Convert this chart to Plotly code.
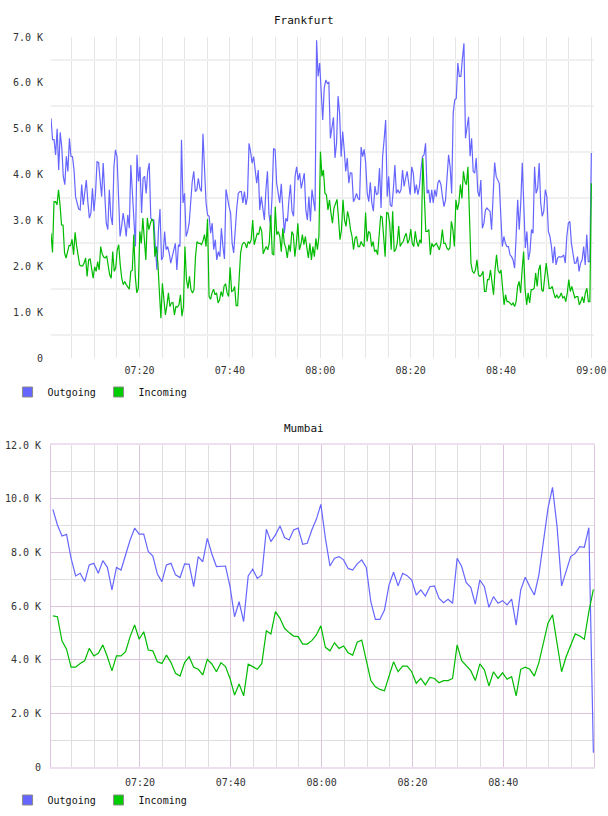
import numpy as np
import pandas as pd
import plotly.graph_objects as go

DAY = "2024-01-01"
FONT = "DejaVu Sans Mono"

# ---------------- Frankfurt (values in K) ----------------
F_OUT = [5.23, 4.76, 4.76, 4.43, 5.0, 4.1, 4.92, 4.6, 3.96, 3.78,
         4.4, 4.07, 4.79, 4.4, 4.39, 4.1, 3.52, 3.41, 3.25, 3.23,
         3.78, 3.34, 3.67, 3.88, 3.41, 3.05, 3.16, 3.7, 3.2, 3.59,
         4.28, 4.26, 3.88, 3.52, 4.25, 3.59, 2.94, 2.8, 3.67, 3.09,
         2.9, 4.17, 4.54, 4.39, 3.38, 2.65, 2.87, 3.16, 2.94, 2.65,
         3.12, 2.83, 4.21, 3.52, 2.94, 2.43, 4.43, 3.85, 4.17, 3.16,
         3.92, 3.96, 3.59, 4.07, 4.25, 3.05, 3.01, 3.01, 2.43, 1.92,
         2.8, 3.25, 2.14, 2.21, 2.76, 2.36, 2.43, 2.29, 2.07, 2.21,
         2.29, 2.5, 1.92, 2.47, 2.43, 4.76,
         3.38, 3.59, 2.65, 2.76, 2.94, 3.52, 3.85, 4.07, 3.63, 3.67,
         3.92, 3.7, 3.63, 4.89, 3.96, 3.38, 3.12, 3.09, 2.72, 2.94,
         2.36, 2.58, 2.14, 2.32, 2.21, 2.83, 2.43, 2.16, 3.68, 3.45,
         3.3, 3.16, 2.5, 2.29, 2.87, 3.27, 3.59, 3.63, 3.63, 3.38,
         3.63, 3.34, 3.52, 4.68, 4.5, 4.25, 4.39, 4.1, 3.81, 4.1,
         3.23, 3.52, 3.3, 3.01, 3.67, 4.07, 3.12, 2.9, 3.52, 4.57,
         4.54, 3.81, 3.59, 3.38, 3.8, 3.23, 2.72, 3.05, 2.98, 3.45,
         3.78, 3.2, 3.09, 3.96, 4.17, 3.88, 4.03, 3.7, 3.88, 4.03,
         3.23, 3.01, 3.52, 2.98, 3.67, 3.45, 3.2,
         6.93, 6.14, 6.43, 5.7, 5.19, 5.89, 6.06, 5.99, 6.01, 4.79,
         5.01, 5.25, 4.36, 4.68, 5.71, 5.34, 4.39, 4.94, 4.54, 4.07,
         4.36, 3.81, 4.04, 4.03, 3.41, 3.48, 3.59, 3.48, 3.45, 4.6,
         4.39, 4.55, 4.25, 3.59, 3.41, 3.83, 3.38, 3.2, 3.75, 3.56,
         3.59, 4.14, 3.27, 4.39, 4.76, 5.19, 3.52, 3.96, 3.34, 3.3,
         3.67, 4.21, 3.59, 3.67, 3.59, 3.67, 4.1, 3.74, 3.92, 4.07,
         3.81, 3.56, 4.17, 4.03, 3.59, 3.78, 3.56, 3.74, 4.1, 4.39,
         4.43, 4.68, 3.59, 3.67, 3.38, 3.67, 3.38, 3.67, 3.52, 3.81,
         3.88, 3.78, 3.52, 3.3, 3.45, 4.03, 4.43, 4.17, 3.59,
         5.34, 5.63, 5.66, 6.43, 6.14, 6.14, 6.53, 6.86, 4.79, 5.08,
         5.26, 4.4, 4.79, 4.07, 4.03, 4.36, 3.63, 3.52, 3.88, 2.83,
         2.94, 3.23, 3.27, 3.23, 3.2, 2.8, 3.74, 4.26, 3.96, 3.88,
         3.81, 3.12, 2.43, 2.65, 2.5, 2.43, 2.43, 2.25, 2.21, 2.14,
         1.96, 2.65, 3.45, 2.8, 3.38, 4.26, 3.3, 2.4, 2.76, 2.14,
         2.32, 2.8, 2.72, 4.17, 3.59, 3.7, 4.25, 3.38, 3.09, 3.2,
         3.67, 3.52, 2.76, 2.65, 2.43, 2.07, 2.43, 2.03, 2.18, 2.21,
         2.2, 2.21, 2.25, 2.07, 2.65, 2.94, 2.98, 2.5, 2.29, 2.07,
         2.07, 2.21, 1.89, 2.07, 2.14, 2.43, 2.03, 2.69, 2.1, 2.1,
         4.47]

F_IN = [2.72, 2.3, 3.41, 3.41, 3.34, 3.67, 3.34, 2.9, 2.9, 2.29,
        2.18, 2.32, 2.45, 2.45, 2.59, 2.25, 2.74, 2.45, 2.25, 2.03,
        2.01, 2.01, 2.07, 2.18, 1.78, 2.14, 2.16, 1.92, 1.74, 1.99,
        1.89, 2.1, 1.92, 2.43, 2.27, 2.2, 2.18, 2.23, 2.03, 1.81,
        1.74, 2.32, 1.89, 1.96, 2.36, 2.47, 2.03, 1.74, 1.6, 1.67,
        1.6, 1.56, 1.5, 1.89, 1.91, 2.69, 1.78, 1.42, 1.52, 2.76,
        2.5, 3.05, 2.65, 2.14, 3.05, 2.8, 2.93, 3.03, 2.98, 2.21,
        2.43, 2.07, 1.45, 0.87, 1.63, 1.27, 0.94, 1.14, 1.42, 1.12,
        1.2, 1.21, 0.94, 1.12, 1.11, 1.16, 1.38, 0.91, 1.12, 2.43, 1.71,
        1.52, 1.78, 1.49, 1.42, 1.49, 2.21, 2.54, 2.5, 2.5, 2.47,
        2.56, 2.69, 2.43, 3.03, 1.34, 1.28, 1.42, 1.5, 1.38, 1.42,
        1.2, 1.27, 1.45, 1.34, 1.57, 1.62, 1.42, 1.34, 1.98, 1.45,
        1.47, 1.56, 1.14, 1.14, 1.74, 2.3, 2.47, 2.52, 2.5, 2.4,
        2.54, 2.5, 2.58, 3.01, 2.47, 2.61, 2.72, 2.69, 2.87, 2.76,
        2.27, 2.36, 2.43, 2.36, 2.5, 3.12, 2.27, 2.25, 3.3, 2.69,
        2.76, 2.65, 2.32, 2.83, 2.5, 2.4, 2.18, 2.47, 2.32, 2.76,
        2.69, 2.21, 2.5, 2.94, 2.36, 2.47, 2.69, 2.47, 2.65, 2.4,
        2.18, 2.5, 2.14, 2.43, 2.21, 2.61, 2.36, 2.65,
        4.5, 3.96, 4.1, 3.59, 3.56, 3.23, 3.45, 3.16, 2.94, 3.27,
        3.38, 3.46, 3.05, 2.58, 2.8, 3.45, 3.01, 2.87, 3.2, 3.05,
        2.8, 2.65, 2.36, 2.61, 2.65, 2.43, 2.43, 2.54, 2.47, 2.43,
        3.17, 2.54, 2.76, 2.72, 2.43, 2.54, 2.32, 2.36, 2.25, 2.69,
        3.09, 3.07, 2.54, 2.21, 3.17, 3.16, 2.94, 2.36, 3.2, 2.32,
        2.36, 2.5, 2.88, 2.43, 2.5, 2.54, 2.65, 2.72, 2.5, 2.58,
        2.81, 2.5, 2.43, 2.76, 2.54, 2.43, 2.58, 2.5, 4.36, 3.45,
        2.76, 2.76, 2.8, 2.25, 2.5, 2.43, 2.47, 2.5, 2.43, 2.36,
        2.5, 2.8, 2.5, 2.5, 2.4, 2.36, 2.4, 2.98, 2.8, 2.43,
        3.45, 3.23, 3.38, 3.78, 3.48, 4.07, 3.85, 3.78, 4.17, 2.8,
        2.07, 1.89, 1.85, 1.92, 2.14, 1.81, 1.78, 1.81, 1.89, 1.45,
        1.45, 1.71, 1.71, 1.92, 1.63, 1.38, 1.92, 2.25, 1.92, 1.85,
        1.92, 1.49, 1.16, 1.38, 1.23, 1.23, 1.2, 1.16, 1.2, 1.12,
        1.23, 1.56, 1.67, 1.42, 1.92, 2.32, 1.49, 1.16, 1.42, 1.2,
        1.49, 1.49, 1.52, 1.85, 1.56, 1.92, 2.03, 1.49, 1.45, 1.71,
        2.07, 1.81, 1.52, 1.52, 1.56, 1.42, 1.31, 1.38, 1.31, 1.34,
        1.42, 1.31, 1.34, 1.23, 1.42, 1.71, 1.45, 1.56, 1.42, 1.31,
        1.34, 1.34, 1.16, 1.23, 1.34, 1.2, 1.42, 1.52, 1.23, 1.23, 3.81]

# ---------------- Mumbai (values in K, one per minute) ----------------
M_OUT = [9.6, 9.02, 8.61, 8.67, 7.78, 7.12, 7.22, 6.91, 7.53, 7.59,
         7.22, 7.69, 7.44, 6.6, 7.44, 7.34, 7.9, 8.46, 8.9, 8.68,
         8.68, 8.03, 7.86, 7.19, 6.91, 7.53, 7.59, 7.16, 7.06, 7.57,
         7.55, 6.72, 7.84, 7.65, 8.52, 7.94, 7.47, 7.49, 7.49, 6.72,
         5.6, 6.16, 5.42, 7.12, 7.37, 7.03, 7.16, 8.86, 8.4, 8.65,
         8.98, 8.55, 8.46, 8.83, 8.9, 8.3,
         8.34, 8.83, 9.23, 9.79, 8.52, 7.49, 7.78, 7.84, 7.72, 7.4,
         7.34, 7.57, 7.72, 7.44, 6.16, 5.5, 5.5, 5.85, 6.78, 7.26,
         6.75, 7.22, 7.13, 6.97, 6.41, 6.6, 6.37, 6.72, 6.75, 6.29,
         6.12, 6.25, 6.1, 7.78, 7.47, 6.87, 6.7, 6.07, 6.97, 6.72,
         5.95, 6.35, 6.1, 6.2, 6.04, 6.26, 5.29, 6.6, 7.07, 6.72,
         6.41, 7.16, 8.46, 9.64, 10.42, 8.96, 6.75, 7.28, 7.84, 7.96,
         8.21, 8.19, 8.92, 0.53]

M_IN = [5.63, 5.6, 4.7, 4.39, 3.72, 3.72, 3.86, 3.96, 4.42, 4.14,
        4.24, 4.55, 4.11, 3.58, 4.14, 4.14, 4.3, 4.86, 5.29, 4.76,
        5.04, 4.36, 4.33, 3.92, 3.86, 4.17, 3.89, 3.49, 3.39, 3.89,
        4.11, 3.72, 3.64, 3.43, 4.01, 3.84, 3.55, 3.89, 3.74, 3.3,
        2.68, 3.09, 2.65, 3.83, 3.74, 3.64, 3.86, 5.08, 4.96, 5.79,
        5.54, 5.17, 5.01, 4.88, 4.86, 4.58,
        4.58, 4.71, 4.92, 5.26, 4.46, 4.33, 4.63, 4.42, 4.51, 4.26,
        4.17, 4.65, 4.73, 3.99, 3.22, 2.99, 2.89, 2.84, 3.43, 3.92,
        3.55, 3.76, 3.76, 3.55, 3.12, 3.3, 3.06, 3.34, 3.3, 3.14,
        3.22, 3.22, 3.3, 4.55, 3.96, 3.76, 3.59, 3.22, 3.84, 3.62,
        3.02, 3.55, 3.3, 3.51, 3.27, 3.37, 2.65, 3.64, 3.72, 3.64,
        3.39, 3.89, 4.67, 5.36, 5.67, 4.67, 3.55, 4.11, 4.55, 4.96,
        4.88, 4.76, 5.79, 6.62]

SERIES = ["Outgoing", "Incoming"]
COLORS = {"Outgoing": "#6666ff", "Incoming": "#00bb00"}
SWATCH = {"Outgoing": "#6666ff", "Incoming": "#00cc00"}

F_YTICKS = [0, 1000, 2000, 3000, 4000, 5000, 6000, 7000]
F_YTEXT = ["0", "1.0 K", "2.0 K", "3.0 K", "4.0 K", "5.0 K", "6.0 K", "7.0 K"]
M_YTICKS = [0, 2000, 4000, 6000, 8000, 10000, 12000]
M_YTEXT = ["0", "2.0 K", "4.0 K", "6.0 K", "8.0 K", "10.0 K", "12.0 K"]

# time stamps
f_out_t = pd.date_range(f"{DAY} 07:00:25", f"{DAY} 09:00:00", periods=len(F_OUT))
f_in_t = pd.date_range(f"{DAY} 07:00:25", f"{DAY} 09:00:00", periods=len(F_IN))
m_t = pd.date_range(f"{DAY} 07:00:50", periods=len(M_OUT), freq="60s")

fig = go.Figure()

fig.add_trace(go.Scatter(x=f_out_t, y=np.array(F_OUT) * 1000, mode="lines",
                         line=dict(color=COLORS["Outgoing"], width=1.2),
                         showlegend=False, xaxis="x", yaxis="y"))
fig.add_trace(go.Scatter(x=f_in_t, y=np.array(F_IN) * 1000, mode="lines",
                         line=dict(color=COLORS["Incoming"], width=1.2),
                         showlegend=False, xaxis="x", yaxis="y"))
fig.add_trace(go.Scatter(x=m_t, y=np.array(M_OUT) * 1000, mode="lines",
                         line=dict(color=COLORS["Outgoing"], width=1.2),
                         showlegend=False, xaxis="x2", yaxis="y2"))
fig.add_trace(go.Scatter(x=m_t, y=np.array(M_IN) * 1000, mode="lines",
                         line=dict(color=COLORS["Incoming"], width=1.2),
                         showlegend=False, xaxis="x2", yaxis="y2"))

# legend swatches
for lg, xa, ya in (("legend", "x", "y"), ("legend2", "x2", "y2")):
    for s in SERIES:
        fig.add_trace(go.Scatter(x=[None], y=[None], mode="markers", name=s,
                                 marker=dict(symbol="square", size=10, color=SWATCH[s],
                                             line=dict(color="#8a8a8a", width=1)),
                                 legend=lg, xaxis=xa, yaxis=ya, showlegend=True))

tickfont = dict(family=FONT, size=10, color="#333333")
xcommon = dict(type="date", dtick=1200000, tick0=f"{DAY} 07:00", tickformat="%H:%M",
               ticks="", zeroline=False, tickfont=tickfont, ticklabelstandoff=5)
legfont = dict(family=FONT, size=10, color="#111111")

fig.update_layout(
    width=608, height=816,
    margin=dict(l=51, r=14, t=0, b=0, autoexpand=False),
    paper_bgcolor="white", plot_bgcolor="white",
    xaxis=dict(domain=[0, 1], anchor="y",
               range=[f"{DAY} 07:00:25", f"{DAY} 09:00:35"],
               showgrid=True, gridcolor="#e6e6e6", gridwidth=1,
               minor=dict(dtick=300000, tick0=f"{DAY} 07:00", showgrid=True,
                          gridcolor="#e6e6e6", gridwidth=1),
               showline=False, **xcommon),
    yaxis=dict(domain=[1 - 358 / 816, 1 - 37 / 816], anchor="x", range=[0, 7000],
               tickmode="array", tickvals=F_YTICKS, ticktext=F_YTEXT,
               showgrid=False, zeroline=False, ticks="",
               minor=dict(tickmode="array", tickvals=[v + 500 for v in F_YTICKS[:-1]],
                          showgrid=True, gridcolor="#f0f0f0", gridwidth=2),
               tickfont=tickfont, ticklabelstandoff=7, showline=False),
    xaxis2=dict(domain=[0, 1], anchor="y2",
                range=[f"{DAY} 07:00:25", f"{DAY} 08:59:58"],
                showgrid=True, gridcolor="#dcc4dc", gridwidth=1,
                minor=dict(dtick=300000, tick0=f"{DAY} 07:00", showgrid=True,
                           gridcolor="#dedede", gridwidth=1),
                showline=True, mirror=True, linecolor="#eddff0", linewidth=2,
                **xcommon),
    yaxis2=dict(domain=[1 - 767 / 816, 1 - 445 / 816], anchor="x2", range=[0, 12000],
                tickmode="array", tickvals=M_YTICKS, ticktext=M_YTEXT,
                showgrid=True, gridcolor="#dcc4dc", gridwidth=1,
                minor=dict(tickmode="array", tickvals=[v + 1000 for v in M_YTICKS[:-1]],
                           showgrid=True, gridcolor="#dedede", gridwidth=1),
                zeroline=False, ticks="", showline=True, mirror=True,
                linecolor="#dcc4dc", linewidth=1,
                tickfont=tickfont, ticklabelstandoff=7),
    legend=dict(orientation="h", x=-0.080, xanchor="left", y=1 - 392 / 816, yanchor="middle",
                font=legfont, bgcolor="rgba(0,0,0,0)", itemwidth=30,
                entrywidth=46, entrywidthmode="pixels"),
    legend2=dict(orientation="h", x=-0.080, xanchor="left", y=1 - 800 / 816, yanchor="middle",
                 font=legfont, bgcolor="rgba(0,0,0,0)", itemwidth=30,
                 entrywidth=46, entrywidthmode="pixels"),
    annotations=[
        dict(text="Frankfurt", xref="paper", yref="paper", x=(304 - 51) / 543, y=1 - 20 / 816,
             xanchor="center", yanchor="middle", showarrow=False,
             font=dict(family=FONT, size=11, color="#111111")),
        dict(text="Mumbai", xref="paper", yref="paper", x=(304 - 51) / 543, y=1 - 428 / 816,
             xanchor="center", yanchor="middle", showarrow=False,
             font=dict(family=FONT, size=11, color="#111111")),
    ],
)

fig.write_html("out.html")
